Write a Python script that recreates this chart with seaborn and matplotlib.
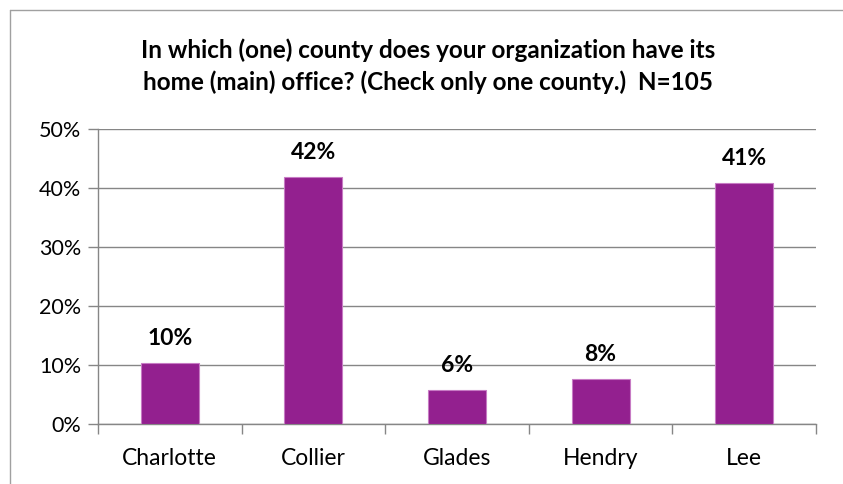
import matplotlib
matplotlib.use("Agg")
import matplotlib.pyplot as plt
from matplotlib.lines import Line2D
from matplotlib.ticker import MultipleLocator, FuncFormatter
import seaborn as sns
import pandas as pd

# Survey results: share of organizations by home-office county
counties = ["Charlotte", "Collier", "Glades", "Hendry", "Lee"]
shares = [10.4, 41.8, 5.7, 7.6, 40.8]
title = ("In which (one) county does your organization have its\n"
         "home (main) office? (Check only one county.)  N=105")

sns.set_theme(style="white")
plt.rcParams["font.family"] = ["Lato", "DejaVu Sans"]

df = pd.DataFrame({"county": counties, "share": shares})

W, H = 843, 484
fig = plt.figure(figsize=(W / 100, H / 100), dpi=100)
ax = fig.add_axes([98 / W, (H - 424) / H, (816 - 98) / W, (424 - 129) / H])

grid_c = "#868686"
bar_c = "#93208F"

sns.barplot(data=df, x="county", y="share", color=bar_c, width=0.405,
            saturation=1, edgecolor="#C77BC4", linewidth=0.8, ax=ax, zorder=3)

ax.set_ylim(0, 50)
ax.set_xlim(-0.5, len(counties) - 0.5)
ax.yaxis.set_major_locator(MultipleLocator(10))
ax.yaxis.set_major_formatter(FuncFormatter(lambda v, _: f"{v:.0f}%"))
ax.grid(axis="y", color=grid_c, linewidth=1.0, zorder=0)
ax.set_axisbelow(True)
ax.set_xlabel("")
ax.set_ylabel("")

for side in ("top", "right"):
    ax.spines[side].set_visible(False)
for side in ("left", "bottom"):
    ax.spines[side].set_color(grid_c)
    ax.spines[side].set_linewidth(1.0)

# y ticks point outward; x ticks sit at category boundaries
ax.tick_params(axis="y", direction="out", length=7, width=1.0, color=grid_c,
               labelsize=15.5, labelcolor="black", pad=5, left=True)
ax.tick_params(axis="x", which="major", length=0, labelsize=16.5,
               labelcolor="black", pad=17)
ax.set_xticks([i + 0.5 for i in range(-1, len(counties))], minor=True)
ax.tick_params(axis="x", which="minor", direction="out", length=7, width=1.0,
               color=grid_c, bottom=True)

for i, v in enumerate(shares):
    ax.annotate(f"{v:.0f}%", (i, v), xytext=(0, 10), textcoords="offset points",
                ha="center", va="bottom", fontsize=16.5, fontweight="bold",
                color="black")

fig.text(428 / W, 1 - 66 / H, title, ha="center", va="center", fontsize=17.5,
         fontweight="bold", color="black", linespacing=1.4)

# outer frame of the chart area
fig.add_artist(Line2D([10 / W, 10 / W], [0, 1 - 10 / H], transform=fig.transFigure,
                      color="#A0A0A0", linewidth=1.0))
fig.add_artist(Line2D([10 / W, 1], [1 - 10 / H, 1 - 10 / H], transform=fig.transFigure,
                      color="#A0A0A0", linewidth=1.0))

fig.savefig("out.png", dpi=100)
